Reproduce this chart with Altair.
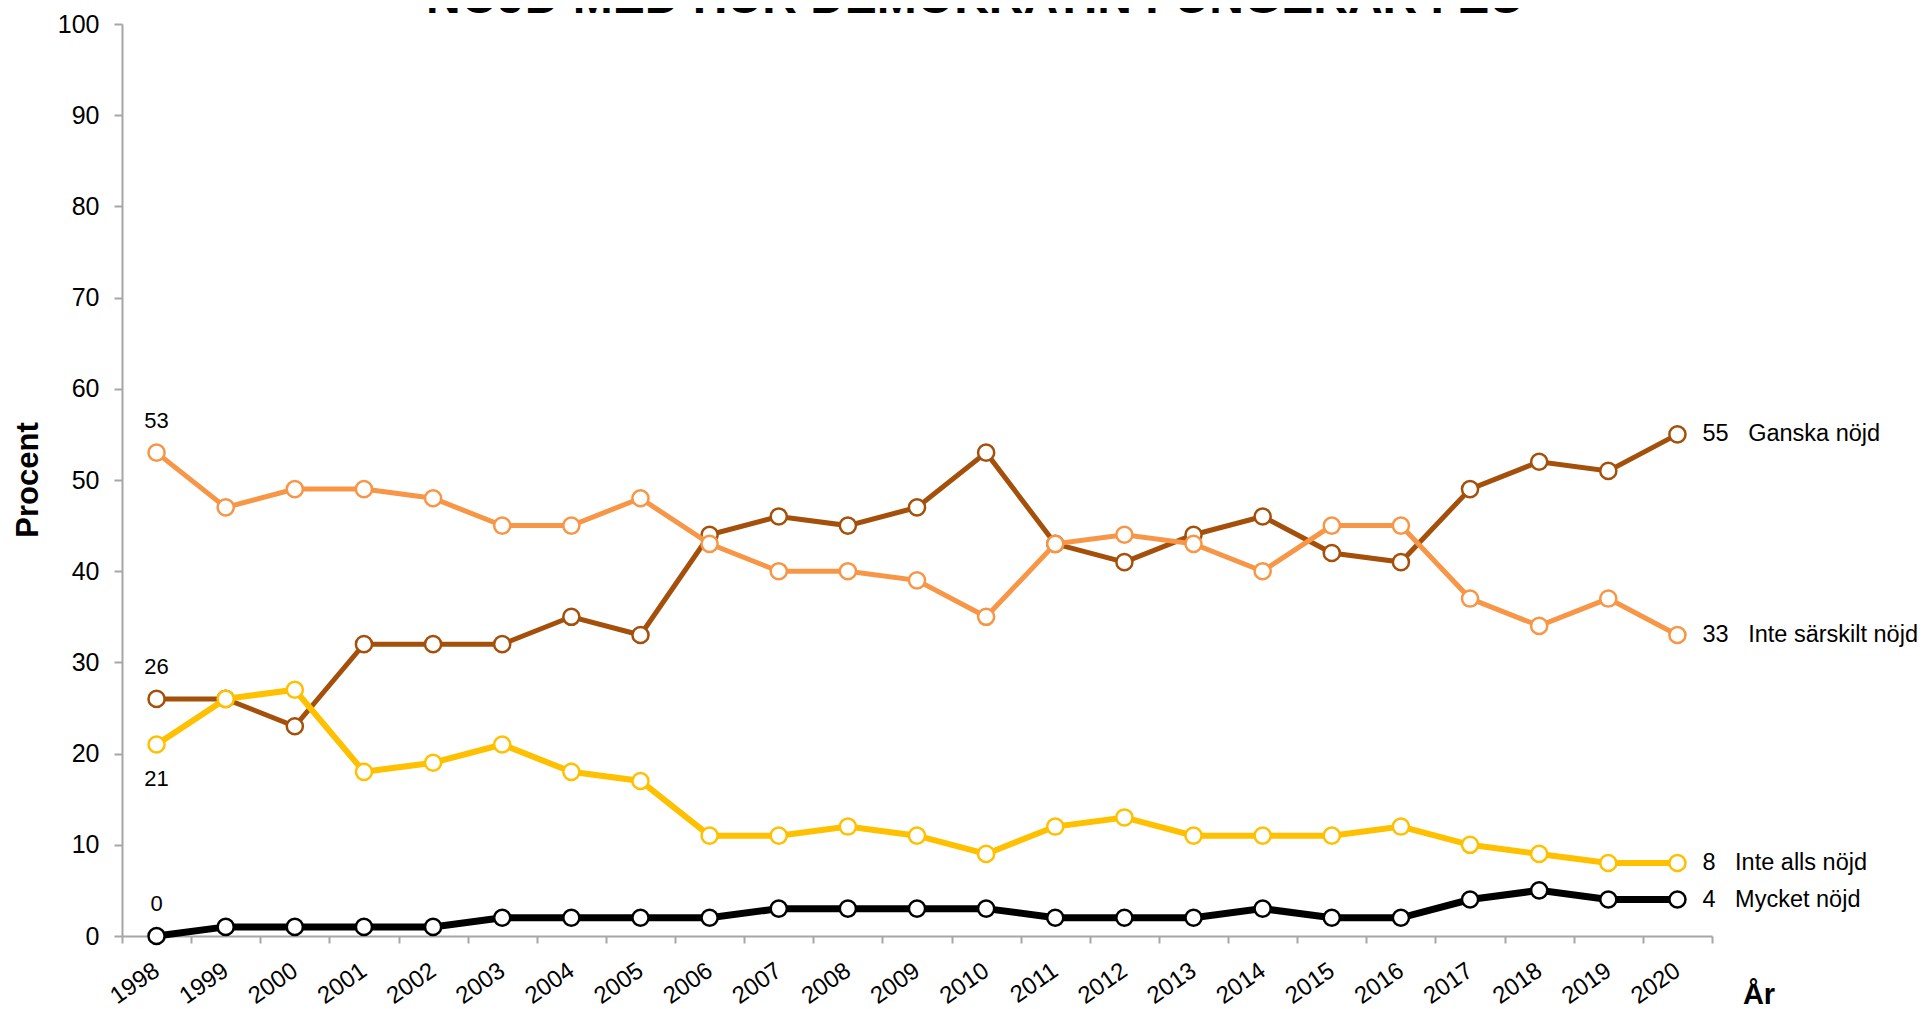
import altair as alt
import pandas as pd

# ---- data ----
years = list(range(1998, 2021))
mycket_nojd = [0, 1, 1, 1, 1, 2, 2, 2, 2, 3, 3, 3, 3, 2, 2, 2, 3, 2, 2, 4, 5, 4, 4]
ganska_nojd = [26, 26, 23, 32, 32, 32, 35, 33, 44, 46, 45, 47, 53, 43, 41, 44, 46, 42, 41, 49, 52, 51, 55]
inte_sarskilt_nojd = [53, 47, 49, 49, 48, 45, 45, 48, 43, 40, 40, 39, 35, 43, 44, 43, 40, 45, 45, 37, 34, 37, 33]
inte_alls_nojd = [21, 26, 27, 18, 19, 21, 18, 17, 11, 11, 12, 11, 9, 12, 13, 11, 11, 11, 12, 10, 9, 8, 8]

series_names = ["Mycket nöjd", "Ganska nöjd", "Inte särskilt nöjd", "Inte alls nöjd"]
series_values = [mycket_nojd, ganska_nojd, inte_sarskilt_nojd, inte_alls_nojd]
series_colors = ["#000000", "#A5500A", "#F79646", "#FFC000"]
series_widths = [7, 5, 5, 6]
first_label_below = [False, False, False, True]

title_text = "NÖJD MED HUR DEMOKRATIN FUNGERAR I EU"
y_title = "Procent"
x_title = "År"
y_ticks = list(range(0, 101, 10))

FONT = "Liberation Sans, Arial, sans-serif"
AXIS_GREY = "#a6a6a6"

rows = []
for name, vals in zip(series_names, series_values):
    for yr, v in zip(years, vals):
        rows.append({"Series": name, "Year": yr, "Value": v})
df = pd.DataFrame(rows)

x_enc = alt.X(
    "Year:O",
    scale=alt.Scale(type="band", domain=years, paddingInner=0, paddingOuter=0),
    axis=alt.Axis(
        title=None, grid=False, domainColor=AXIS_GREY, domainWidth=2,
        tickColor=AXIS_GREY, tickWidth=2, tickSize=7, tickBand="extent",
        labelAngle=-35, labelAlign="right", labelBaseline="middle",
        labelFontSize=24, labelFont=FONT, labelColor="#000000", labelPadding=25,
    ),
)
y_enc = alt.Y(
    "Value:Q",
    scale=alt.Scale(domain=[0, 100], nice=False, zero=True),
    axis=alt.Axis(
        title=None, grid=False, values=y_ticks, domainColor=AXIS_GREY, domainWidth=2,
        tickColor=AXIS_GREY, tickWidth=2, tickSize=8,
        labelFontSize=25, labelFont=FONT, labelColor="#000000", labelPadding=15,
    ),
)

layers = []
for name, color, w in zip(series_names, series_colors, series_widths):
    d = df[df["Series"] == name]
    layers.append(
        alt.Chart(d).mark_line(color=color, strokeWidth=w).encode(x=x_enc, y=y_enc)
    )
    layers.append(
        alt.Chart(d).mark_point(
            shape="circle", filled=True, fill="white", stroke=color,
            strokeWidth=2.5, size=260, opacity=1,
        ).encode(x=x_enc, y=y_enc)
    )

# first-year value labels
first_df = df[df["Year"] == years[0]].copy()
below_names = [n for n, b in zip(series_names, first_label_below) if b]
above_df = first_df[~first_df["Series"].isin(below_names)]
below_df = first_df[first_df["Series"].isin(below_names)]
layers.append(
    alt.Chart(above_df).mark_text(
        font=FONT, fontSize=22, color="#000000", baseline="alphabetic", dy=-25
    ).encode(x=x_enc, y=y_enc, text="Value:Q")
)
layers.append(
    alt.Chart(below_df).mark_text(
        font=FONT, fontSize=22, color="#000000", baseline="top", dy=25
    ).encode(x=x_enc, y=y_enc, text="Value:Q")
)

# last-year labels with series names
last_df = df[df["Year"] == years[-1]].copy()
last_df["Label"] = last_df["Value"].astype(str) + "\u00a0\u00a0\u00a0" + last_df["Series"]
layers.append(
    alt.Chart(last_df).mark_text(
        font=FONT, fontSize=23.5, color="#000000", align="left", baseline="middle", dx=25
    ).encode(x=x_enc, y=y_enc, text="Label:N")
)

# titles
layers.append(
    alt.Chart(pd.DataFrame({"t": [title_text]})).mark_text(
        font=FONT, fontSize=48, fontWeight="bold", color="#000000",
        align="center", baseline="alphabetic",
    ).encode(x=alt.value(853), y=alt.value(-11), text="t:N")
)
layers.append(
    alt.Chart(pd.DataFrame({"t": [y_title]})).mark_text(
        font=FONT, fontSize=31, fontWeight="bold", color="#000000",
        align="center", baseline="middle", angle=270,
    ).encode(x=alt.value(-93), y=alt.value(456), text="t:N")
)
layers.append(
    alt.Chart(pd.DataFrame({"t": [x_title]})).mark_text(
        font=FONT, fontSize=29, fontWeight="bold", color="#000000",
        align="center", baseline="alphabetic",
    ).encode(x=alt.value(1637), y=alt.value(980), text="t:N")
)

chart = (
    alt.layer(*layers)
    .properties(
        width=1590, height=912,
        autosize=alt.AutoSizeParams(type="none"),
        padding={"left": 114, "top": 16, "right": 208, "bottom": 73},
        background="white",
    )
    .configure_view(stroke=None)
)

chart.save("out.html", embed_options={"renderer": "svg", "actions": False})
